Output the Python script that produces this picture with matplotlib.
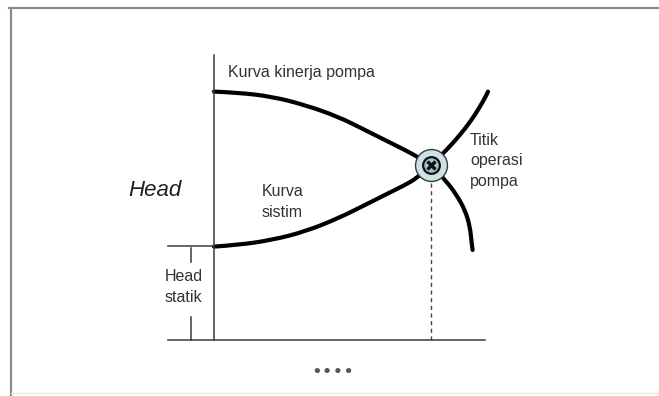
import matplotlib
matplotlib.use("Agg")
import matplotlib.pyplot as plt
from matplotlib.lines import Line2D
from matplotlib.path import Path
from matplotlib.patches import PathPatch

plt.rcParams['font.family'] = ['Liberation Sans', 'DejaVu Sans']

# ---- data (flow Q, head H; arbitrary units) ----
pump_Q = [0.0, 1.2, 2.9, 4.55, 6.2, 7.55, 8.7, 9.55, 10.15, 10.85,
          11.63, 12.13, 12.55, 12.8, 12.88, 12.93]
pump_H = [12.42, 12.37, 12.17, 11.75, 11.17, 10.5, 9.92, 9.5, 9.17, 8.75,
          7.92, 7.25, 6.5, 5.67, 4.85, 4.5]
sys_Q = [0.0, 1.2, 2.9, 4.55, 6.2, 7.55, 8.7, 9.55, 10.15, 10.85,
         11.63, 12.3, 12.88, 13.3, 13.63, 13.7]
sys_H = [4.67, 4.75, 5.0, 5.42, 6.08, 6.75, 7.33, 7.75, 8.1, 8.75,
         9.5, 10.25, 11.0, 11.67, 12.25, 12.42]
op_Q = 10.85
op_H = 8.75
static_head = 4.7
axis_Q_max = 13.55
axis_H_max = 14.25

lbl_pump = "Kurva kinerja pompa"
lbl_sys = "Kurva\nsistim"
lbl_op = "Titik\noperasi\npompa"
lbl_head = "Head"
lbl_static = "Head\nstatik"
lbl_x = "••••"


def smooth_path(xs, ys):
    """Quadratic-Bezier path using the read points as control points."""
    verts = [(xs[0], ys[0])]
    codes = [Path.MOVETO]
    n = len(xs)
    for i in range(1, n - 1):
        verts.append((xs[i], ys[i]))
        if i < n - 2:
            verts.append(((xs[i] + xs[i + 1]) / 2, (ys[i] + ys[i + 1]) / 2))
        else:
            verts.append((xs[i + 1], ys[i + 1]))
        codes += [Path.CURVE3, Path.CURVE3]
    return Path(verts, codes)


W, H = 659, 396
fig = plt.figure(figsize=(W / 100, H / 100), dpi=100)
ax = fig.add_axes([0, 0, 1, 1])
s = 20.0  # px per unit
x0, y0 = 214, 340
ax.set_xlim(-x0 / s, (W - x0) / s)
ax.set_ylim(-(H - y0) / s, y0 / s)
ax.axis('off')

# frame of the picture (in axes fraction)
ax.add_line(Line2D([9 / W, 1], [1 - 7.5 / H, 1 - 7.5 / H], transform=ax.transAxes,
                   color='#8a8a8a', lw=1.6))
ax.add_line(Line2D([10.5 / W, 10.5 / W], [0, 1 - 7.5 / H], transform=ax.transAxes,
                   color='#8a8a8a', lw=1.6))
ax.add_line(Line2D([10.5 / W, 1], [1 - 393 / H, 1 - 393 / H], transform=ax.transAxes,
                   color='#e6e6e6', lw=1.0))

axc = '#3a3a3a'
# axes
ax.plot([0, 0], [0, axis_H_max], color=axc, lw=1.1)
ax.plot([-2.3, axis_Q_max], [0, 0], color=axc, lw=1.1)
ax.plot([-2.3, 0], [static_head, static_head], color=axc, lw=1.1)
ax.plot([-1.15, -1.15], [static_head - 0.1, static_head - 0.8], color=axc, lw=1.1)
ax.plot([-1.15, -1.15], [0, 1.15], color=axc, lw=1.1)

# dashed drop line
ax.plot([op_Q, op_Q], [0, op_H - 0.6], color='#444444', lw=1.0, ls=(0, (3, 2.5)))

# curves
for qs, hs in ((pump_Q, pump_H), (sys_Q, sys_H)):
    ax.add_patch(PathPatch(smooth_path(qs, hs), fill=False, edgecolor='black', lw=3.0,
                           capstyle='round', joinstyle='round'))

# operating point
ax.plot([op_Q], [op_H], marker='o', ms=23, mfc='#cde2e6', mec='#3a3a3a', mew=1.0, zorder=5)
ax.plot([op_Q], [op_H], marker='o', ms=12, mfc='#a8c3c8', mec='#111111', mew=1.6, zorder=6)
ax.plot([op_Q], [op_H], marker='x', ms=6, mec='#111111', mew=2.4, zorder=7)

tc = '#333333'
fs = 11.5
ax.text(0.7, 13.35, lbl_pump, fontsize=fs, color=tc, ha='left', va='center')
ax.text(2.4, 6.9, lbl_sys, fontsize=fs, color=tc, ha='left', va='center', linespacing=1.45)
ax.text(12.8, 8.95, lbl_op, fontsize=fs, color=tc, ha='left', va='center', linespacing=1.45)
ax.text(-2.95, 7.45, lbl_head, fontsize=16, style='italic', color='#222222', ha='center', va='center')
ax.text(-2.45, 2.65, lbl_static, fontsize=fs, color=tc, ha='left', va='center', linespacing=1.45)
ax.text(-(214 - 333) / s, -1.6, lbl_x, fontsize=13, color='#555555', ha='center', va='center',
        family=['DejaVu Sans'])

fig.savefig('out.png', dpi=100)
